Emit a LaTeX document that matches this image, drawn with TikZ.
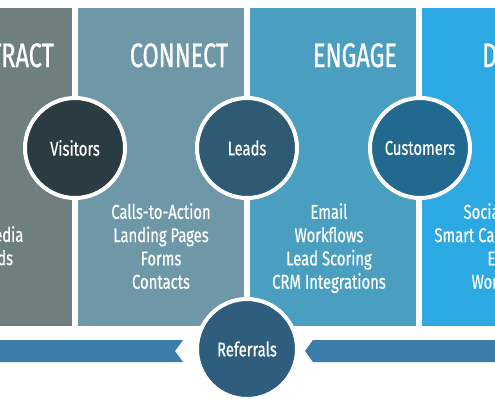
\documentclass[tikz,border=0pt]{standalone}
\usepackage{fontspec}
\setmainfont{Fira Sans}
\newfontfamily\titlefont{Fira Sans}[FakeStretch=0.69,FakeBold=0.8]
\newfontfamily\bodyfont{Fira Sans}[FakeStretch=0.74,FakeBold=0.6]
\definecolor{cA}{HTML}{6F7F80}
\definecolor{cB}{HTML}{6E97A7}
\definecolor{cC}{HTML}{4A9FC1}
\definecolor{cD}{HTML}{2CA8E3}
\definecolor{cV}{HTML}{2B3B42}
\definecolor{cL}{HTML}{2F5A74}
\definecolor{cU}{HTML}{22698F}
\definecolor{cR}{HTML}{2F5D7D}
\definecolor{cBar}{HTML}{3A7DAB}
\begin{document}
\begin{tikzpicture}[x=1pt,y=-1pt,
  panel/.style={fill=#1, minimum width=166pt, minimum height=318pt, inner sep=0pt, anchor=north west},
  ring/.style={circle, fill=#1, draw=white, line width=4pt, minimum size=100pt, inner sep=0pt, text=white, font=\bodyfont\fontsize{20}{24}\selectfont},
  title/.style={text=white, font=\titlefont\fontsize{34}{40}\selectfont, inner sep=0pt},
  body/.style={text=white, font=\bodyfont\fontsize{20}{23.3}\selectfont, align=center, inner sep=0pt, anchor=north},
  bar/.style={fill=cBar}]
\useasboundingbox (0,0) rectangle (495,400);
\clip (0,0) rectangle (495,400);
\fill[white] (0,0) rectangle (495,400);
% panels
\node[panel=cA] (p1) at (-94,8) {};
\node[panel=cB] (p2) at (78,8) {};
\node[panel=cC] (p3) at (250,8) {};
\node[panel=cD] (p4) at (422,8) {};
% titles
\node[title, anchor=base east] (t1) at (54,67) {ATTRACT};
\node[title, anchor=base] (t2) at (179,67) {CONNECT};
\node[title, anchor=base] (t3) at (355,67) {ENGAGE};
\node[title, anchor=base west] (t4) at (482,67) {DELIGHT};
% body texts
\node[body] (b1) at (-19,226) {Social Media\\Keywords};
\node[body] (b2) at (161,203) {Calls-to-Action\\Landing Pages\\Forms\\Contacts};
\node[body] (b3) at (329,203) {Email\\Workflows\\Lead Scoring\\CRM Integrations};
\node[body] (b4) at (506,203) {Social Media\\Smart Calls-to-Action\\Email\\Workflows};
% arrow bar
\coordinate (barL) at (0,351);
\coordinate (barR) at (495,351);
\fill[bar] (barL) ++(0,-11) -- (183,340) -- (175,351) -- (183,362) -- (0,362) -- cycle;
\fill[bar] (barR) ++(0,-11) -- (313,340) -- (305,351) -- (313,362) -- (495,362) -- cycle;
% circles
\node[ring=cV] (visitors) at (75,148) {Visitors};
\node[ring=cL] (leads) at (247,148) {Leads};
\node[ring=cU] (customers) at (420,148) {Customers};
\node[ring=cR] (referrals) at (247,349) {Referrals};
\end{tikzpicture}
\end{document}
